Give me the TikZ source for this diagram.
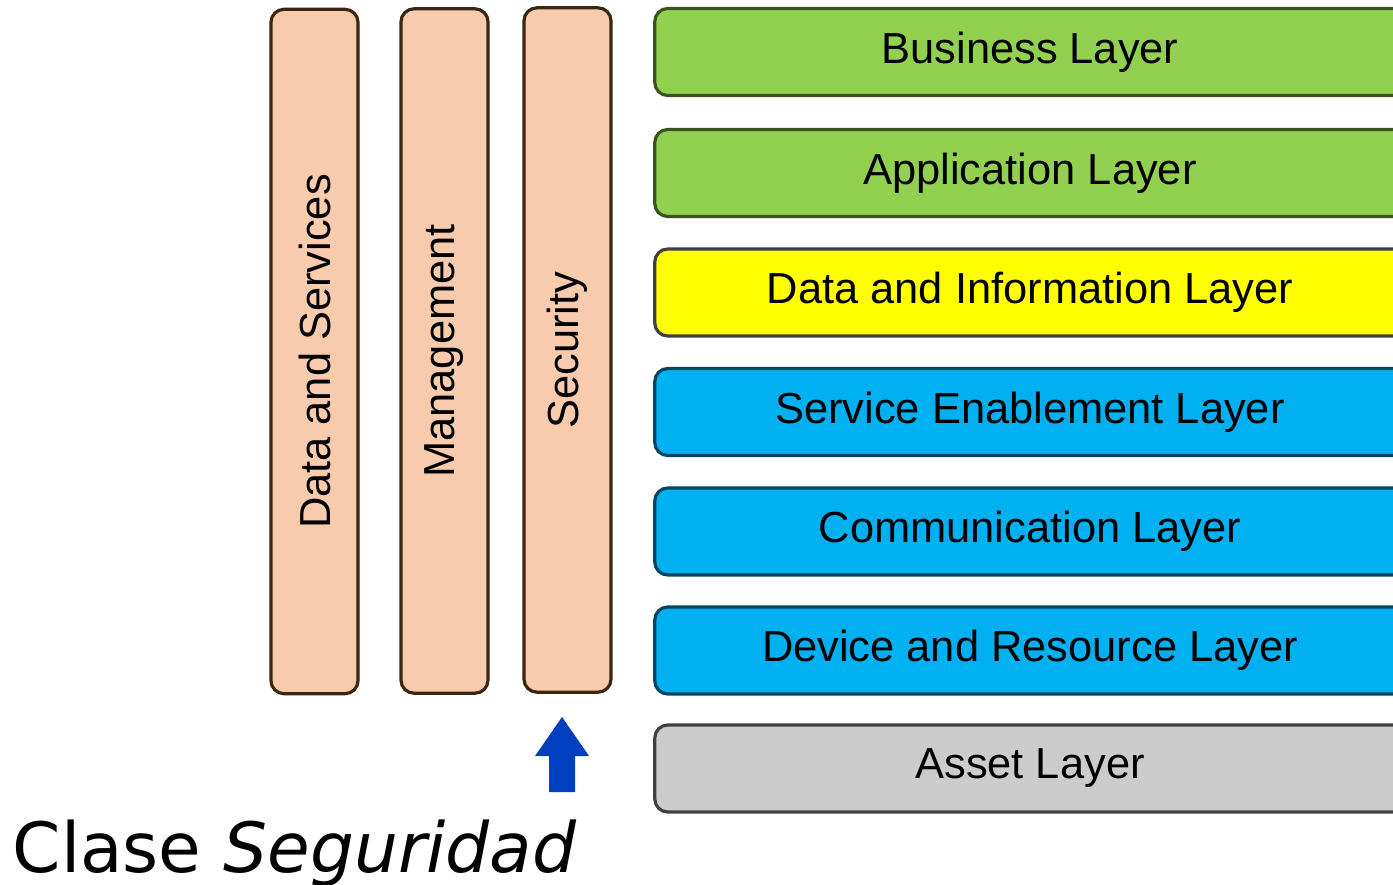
\documentclass[tikz,border=0pt]{standalone}
\usepackage{fontspec}
\setmainfont{DejaVu Sans}
\newfontfamily\boxfont{Liberation Sans}
\usetikzlibrary{arrows.meta}

\definecolor{bizgreen}{RGB}{146,208,80}
\definecolor{datayellow}{RGB}{255,255,0}
\definecolor{netblue}{RGB}{0,176,240}
\definecolor{assetgray}{RGB}{204,204,204}
\definecolor{peach}{RGB}{248,203,173}
\definecolor{arrowblue}{RGB}{0,64,192}

\tikzset{
  layer/.style={draw=black!75, line width=0.9pt, rounded corners=0.13cm,
    minimum width=7.5cm, minimum height=0.87cm, inner sep=0pt,
    font=\boxfont\fontsize{12.35}{14}\selectfont},
  pillar/.style={layer, fill=peach, draw=black!70!brown, rotate=90,
    minimum width=6.84cm, minimum height=0.87cm}
}

\begin{document}
\begin{tikzpicture}[x=0.01cm, y=-0.01cm, >=Stealth]
	  			\useasboundingbox (0,0) rectangle (1393,885);
	  			\clip (0,0) rectangle (1393,885);

	  			% horizontal layers
	  			\node[layer, fill=bizgreen, draw=black!60!bizgreen] (business) at (1030,52) {Business Layer};
	  			\node[layer, fill=bizgreen, draw=black!60!bizgreen] (application) at (1030,173) {Application Layer};
	  			\node[layer, fill=datayellow] (datainfo) at (1030,292.5) {Data and Information Layer};
	  			\node[layer, fill=netblue, draw=black!60!netblue] (service) at (1030,412) {Service Enablement Layer};
	  			\node[layer, fill=netblue, draw=black!60!netblue] (communication) at (1030,531.5) {Communication Layer};
	  			\node[layer, fill=netblue, draw=black!60!netblue] (device) at (1030,650.5) {Device and Resource Layer};
	  			\node[layer, fill=assetgray] (asset) at (1030,768.5) {Asset Layer};

	  			% cross-cutting columns
	  			\node[pillar] (dataserv) at (314.5,351.5) {Data and Services};
	  			\node[pillar] (mgmt) at (444.5,351) {Management};
	  			\node[pillar] (security) at (567.5,350) {Security};

	  			% pointer to the security column
	  			\fill[arrowblue] (549,792) -- (549,756) -- (535,756) -- (562,717)
	  				-- (589,756) -- (575,756) -- (575,792) -- cycle;

	  			\node[anchor=base west, inner sep=0pt, font=\fontsize{19.7}{24}\selectfont]
	  				(caption) at (12,872) {Clase \textit{Seguridad}};
	  		\end{tikzpicture}
\end{document}
